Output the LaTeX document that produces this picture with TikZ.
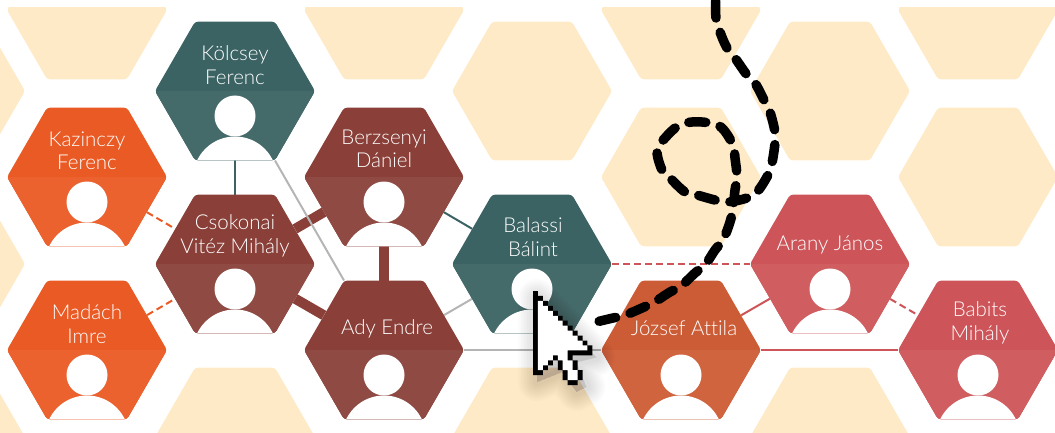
\documentclass[tikz,border=0pt]{standalone}
\usepackage{fontspec}
\setmainfont{Lato}[UprightFont=* Light, Ligatures=NoCommon]
\usetikzlibrary{shapes.geometric,backgrounds}
\definecolor{beige}{HTML}{FEEAC7}
\definecolor{tealtop}{HTML}{3C6363}
\definecolor{tealbot}{HTML}{456A6A}
\definecolor{browntop}{HTML}{8A4039}
\definecolor{brownbot}{HTML}{8F4A43}
\definecolor{orangetop}{HTML}{EA5A25}
\definecolor{orangebot}{HTML}{EB622E}
\definecolor{redtop}{HTML}{CD5559}
\definecolor{redbot}{HTML}{D05E60}
\definecolor{rusttop}{HTML}{CC5C35}
\definecolor{rustbot}{HTML}{D0643E}
\definecolor{linkgrey}{HTML}{B5B5B5}
\tikzset{
    basehex/.style={regular polygon, regular polygon sides=6, minimum size=160pt,
        inner sep=0pt, rounded corners=3pt},
    bghex/.style={basehex, fill=beige},
    personhex/.style 2 args={basehex, fill=#1, path picture={
        \begin{scope}[shift={(path picture bounding box.center)}]
            \fill[#2]  (-80, 0.00) rectangle (80, 70);
            \fill[white]( 0.00, 25.00) circle (20.5);
            \fill[white]( 0.00, 87.50) circle (42);
        \end{scope}}},
    nametext/.style={text=white, align=center, inner sep=0pt,
        font=\fontsize{20.5}{23.5}\selectfont},
    biglink/.style={color=browntop, line width=10pt},
    solidlink/.style={color=#1, line width=2pt},
    dashlink/.style={color=#1, line width=2pt, dash pattern=on 7pt off 4pt},
}
\begin{document}
\begin{tikzpicture}[x=1pt, y=-1pt]
    \useasboundingbox (0,0) rectangle (1055,433);
    % persons
    \node[personhex={orangetop}{orangebot}] (kazinczy)  at ( 87,177) {};
    \node[personhex={orangetop}{orangebot}] (madach)    at ( 87,350) {};
    \node[personhex={tealtop}{tealbot}]     (kolcsey)   at (235, 91) {};
    \node[personhex={browntop}{brownbot}]   (csokonai)  at (235,264) {};
    \node[personhex={browntop}{brownbot}]   (berzsenyi) at (384,177) {};
    \node[personhex={browntop}{brownbot}]   (ady)       at (384,350) {};
    \node[personhex={tealtop}{tealbot}]     (balassi)   at (532,264) {};
    \node[personhex={rusttop}{rustbot}]     (jozsef)    at (681,350) {};
    \node[personhex={redtop}{redbot}]       (arany)     at (830,264) {};
    \node[personhex={redtop}{redbot}]       (babits)    at (978,350) {};
    % names
    \node[nametext] (kazinczyname)  at ( 87,151) {Kazinczy\\Ferenc};
    \node[nametext] (madachname)    at ( 87,324) {Madách\\Imre};
    \node[nametext] (kolcseyname)   at (235, 65) {Kölcsey\\Ferenc};
    \node[nametext] (csokonainame)  at (235,236) {Csokonai\\Vitéz Mihály};
    \node[nametext] (berzsenyiname) at (384,149) {Berzsenyi\\Dániel};
    \node[nametext] (adyname)       at (387,329) {Ady Endre};
    \node[nametext] (balassiname)   at (533,237) {Balassi\\Bálint};
    \node[nametext] (jozsefname)    at (684,328) {József Attila};
    \node[nametext] (aranyname)     at (830,245) {Arany János};
    \node[nametext] (babitsname)    at (980,323) {Babits\\Mihály};
    % empty cells and links
    \begin{scope}[on background layer]
        \begin{scope}
            \clip (-100,8) rectangle (1100,500);
            \foreach \cx/\cy [count=\i] in {87/10, 384/10, 681/10, 978/10, -55/91, -55/264, -55/437,
                    532/91, 830/91, 681/177, 978/177, 235/437, 532/437, 830/437}
                \node[bghex] (empty\i) at (\cx,\cy) {};
        \end{scope}
        \draw[biglink] (csokonai) -- (berzsenyi);
        \draw[biglink] (csokonai) -- (ady);
        \draw[biglink] (berzsenyi) -- (ady);
        \draw[solidlink=linkgrey] (kolcsey) -- (ady);
        \draw[solidlink=linkgrey] (ady) -- (balassi);
        \draw[solidlink=linkgrey] (ady) -- (jozsef);
        \draw[solidlink=tealtop] (kolcsey) -- (csokonai);
        \draw[solidlink=tealtop] (berzsenyi) -- (balassi);
        \draw[solidlink=redtop] (jozsef) -- (arany);
        \draw[solidlink=redtop] (jozsef) -- (babits);
        \draw[dashlink=orangetop] (kazinczy) -- (csokonai);
        \draw[dashlink=orangetop] (madach) -- (csokonai);
        \draw[dashlink=redtop] (balassi) -- (arany);
        \draw[dashlink=redtop] (arany) -- (babits);
    \end{scope}
    % mouse trail
    \draw[black, line width=9.5pt, line cap=round, dash pattern=on 17pt off 15pt]
        plot[smooth, tension=0.6] coordinates {
            (715.7,1) (716,18) (720,32) (727,48) (735,58) (747,75) (755,83) (765,102)
            (770,112) (775,132) (775,143) (772,163) (768,175) (757,192) (747,198) (728,202)
            (715,200) (697,195) (685,192) (670,178) (662,170) (657,150) (665,138) (678,126)
            (692,122) (710,123) (722,128) (733,145) (735,158) (737,177) (735,190) (733,208)
            (730,222) (723,240) (715,250) (705,265) (695,273) (680,287) (670,292) (653,303)
            (642,308) (623,316) (613,318) (592,323)};
    % cursor
    \begin{scope}[shift={(533,291)}, x=4.95pt, y=-4.95pt]
        \foreach \w in {8,11,...,38}
            \filldraw[black, opacity=.012, line width=\w pt, line join=round, xshift=4pt, yshift=-7pt]
                (0,0) -- (12,12) -- (8,13) -- (10,18) -- (8,19) -- (5,15) -- (0,17) -- cycle;
        \fill[black]
            (0,0) -| (1,1) -| (2,2) -| (3,3) -| (4,4) -| (5,5) -| (6,6) -| (7,7) -| (8,8) -| (9,9) -| (10,10) -| (11,11) -| (12,13)
            -| (8,14) -| (9,16) -| (10,18) -| (9,19) -| (7,18) -| (6,16) -| (5,14) -| (4,15) -| (3,16) -| (2,17) -| (0,0) -- cycle;
        \fill[white]
            (1,2) -| (2,3) -| (3,4) -| (4,5) -| (5,6) -| (6,7) -| (7,8) -| (8,9) -| (9,10) -| (10,11) -| (11,12) -| (7,14)
            -| (8,16) -| (9,18) -| (7,16) -| (6,14) -| (5,13) -| (4,14) -| (3,15) -| (2,16) -| (1,2) -- cycle;
    \end{scope}
\end{tikzpicture}
\end{document}
